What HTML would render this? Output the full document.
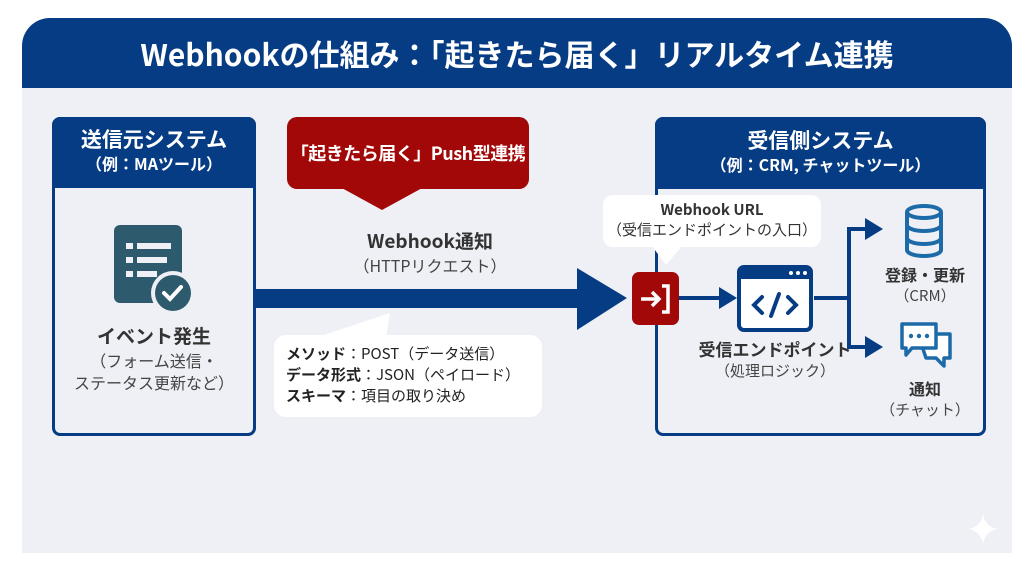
<!DOCTYPE html>
<html><head><meta charset="utf-8"><style>
*{margin:0;padding:0;box-sizing:border-box}
body{width:1024px;height:572px;background:#fff;position:relative;overflow:hidden;font-family:"Liberation Sans","Noto Sans CJK JP",sans-serif;color:#333}
.abs{position:absolute}
.c{text-align:center}
</style></head><body>
<div class="abs" style="left:22px;top:18px;width:990px;height:535px;background:#eef0f6;border-radius:28px 28px 0 0"></div>
<div class="abs c" style="left:22px;top:18px;width:990px;height:70px;background:#063c84;border-radius:28px 28px 0 0;color:#fff;font-weight:bold;font-size:30px;line-height:70px;font-family:'Noto Sans CJK JP',sans-serif">Webhookの仕組み：「起きたら届く」リアルタイム連携</div>

<!-- left box -->
<div class="abs" style="left:52px;top:117px;width:204px;height:319px;border:3px solid #063c84;border-radius:8px;background:#eef0f6"></div>
<div class="abs c" style="left:52px;top:117px;width:204px;height:71px;background:#063c84;border-radius:8px 8px 0 0;color:#fff;font-weight:bold;font-family:'Noto Sans CJK JP',sans-serif">
<div style="font-size:21px;line-height:26px;margin-top:9px">送信元システム</div>
<div style="font-size:16px;line-height:22px">（例：MAツール）</div></div>
<svg class="abs" style="left:110px;top:220px" width="90" height="100">
<rect x="4" y="5" width="68" height="78" rx="6" fill="#2e5a6e"/>
<g fill="#eef0f6"><rect x="16" y="23" width="7" height="6"/><rect x="27" y="23" width="34" height="6"/><rect x="16" y="37" width="7" height="6"/><rect x="27" y="37" width="30" height="6"/><rect x="16" y="51" width="7" height="6"/><rect x="27" y="51" width="20" height="6"/></g>
<circle cx="63" cy="73" r="22" fill="#eef0f6"/><circle cx="63" cy="73" r="18" fill="#2e5a6e"/>
<path d="M54 73 l6 6 l11 -12" stroke="#fff" stroke-width="4" fill="none" stroke-linecap="round"/>
</svg>
<div class="abs c" style="left:52px;top:323px;width:204px;font-family:'Noto Sans CJK JP',sans-serif">
<div style="font-size:19px;font-weight:bold;line-height:26px;color:#333">イベント発生</div>
<div style="font-size:16px;line-height:22px;color:#444">（フォーム送信・<br>ステータス更新など）</div></div>

<!-- red box -->
<div class="abs c" style="left:287px;top:117px;width:242px;height:72px;background:#a30808;border-radius:10px;color:#fff;font-weight:bold;font-size:18px;line-height:72px;white-space:nowrap;letter-spacing:-0.5px;font-family:'Noto Sans CJK JP',sans-serif">「起きたら届く」Push型連携</div>
<svg class="abs" style="left:330px;top:187px" width="100" height="26"><path d="M10 0 L52 23 L94 0Z" fill="#a30808"/></svg>

<div class="abs c" style="left:330px;top:228px;width:200px;font-family:'Noto Sans CJK JP',sans-serif">
<div style="font-size:19px;font-weight:bold;line-height:26px;color:#333">Webhook通知</div>
<div style="font-size:16px;line-height:22px;color:#444">（HTTPリクエスト）</div></div>

<!-- big arrow -->
<svg class="abs" style="left:255px;top:260px" width="380" height="80">
<rect x="0" y="29" width="330" height="19" fill="#063c84"/>
<path d="M322 8 L372 38 L322 70Z" fill="#063c84"/>
</svg>

<!-- bottom callout -->
<svg class="abs" style="left:270px;top:310px" width="130" height="30"><path d="M45 28 L120 3 L116 28Z" fill="#fff"/></svg>
<div class="abs" style="left:274px;top:335px;width:268px;height:82px;background:#fff;border-radius:12px;padding:8px 0 0 12px;font-size:15px;line-height:21px;color:#222;font-family:'Noto Sans CJK JP',sans-serif">
<b>メソッド</b>：POST（データ送信）<br><b>データ形式</b>：JSON（ペイロード）<br><b>スキーマ</b>：項目の取り決め</div>

<!-- right box -->
<div class="abs" style="left:655px;top:117px;width:331px;height:319px;border:3px solid #063c84;border-radius:8px;background:#eef0f6"></div>
<div class="abs c" style="left:655px;top:117px;width:331px;height:72px;background:#063c84;border-radius:8px 8px 0 0;color:#fff;font-weight:bold;font-family:'Noto Sans CJK JP',sans-serif">
<div style="font-size:21px;line-height:26px;margin-top:10px">受信側システム</div>
<div style="font-size:16px;line-height:22px">（例：CRM, チャットツール）</div></div>

<!-- URL callout -->
<div class="abs c" style="left:603px;top:195px;width:218px;height:52px;background:#fff;border-radius:10px;font-size:15px;line-height:20px;padding-top:5px;color:#333;font-family:'Noto Sans CJK JP',sans-serif"><b>Webhook URL</b><br>（受信エンドポイントの入口）</div>
<svg class="abs" style="left:650px;top:246px" width="40" height="22"><path d="M2 0 L16 19 L32 0Z" fill="#fff"/></svg>

<!-- red icon -->
<div class="abs" style="left:632px;top:272px;width:47px;height:53px;background:#a30808;border-radius:7px"></div>
<svg class="abs" style="left:632px;top:272px" width="47" height="53">
<path d="M9 27 H26 M20 20 L27 27 L20 34" stroke="#fff" stroke-width="3.5" fill="none"/>
<path d="M30 14 H36 V40 H30" stroke="#fff" stroke-width="3.5" fill="none"/>
</svg>

<!-- arrows right -->
<svg class="abs" style="left:679px;top:200px" width="230" height="170">
<rect x="0" y="96" width="44" height="4" fill="#063c84"/>
<path d="M40 87 L58 98 L40 109Z" fill="#063c84"/>
<rect x="135" y="96" width="35" height="4" fill="#063c84"/>
<rect x="168" y="27" width="4" height="122" fill="#063c84"/>
<rect x="168" y="27" width="20" height="4" fill="#063c84"/>
<path d="M186 18 L204 29 L186 40Z" fill="#063c84"/>
<rect x="168" y="145" width="20" height="4" fill="#063c84"/>
<path d="M186 136 L204 147 L186 158Z" fill="#063c84"/>
</svg>

<!-- code icon -->
<svg class="abs" style="left:736px;top:264px" width="80" height="70">
<rect x="3" y="3" width="72" height="63" rx="5" fill="#fff" stroke="#063c84" stroke-width="4"/>
<rect x="3" y="3" width="72" height="12" fill="#063c84"/>
<g fill="#fff"><circle cx="55" cy="9" r="2"/><circle cx="62" cy="9" r="2"/><circle cx="69" cy="9" r="2"/></g>
<path d="M26 33 L18 41 L26 49 M52 33 L60 41 L52 49 M43 30 L35 52" stroke="#063c84" stroke-width="4" fill="none" stroke-linecap="round"/>
</svg>
<div class="abs c" style="left:690px;top:337px;width:170px;font-family:'Noto Sans CJK JP',sans-serif">
<div style="font-size:17px;font-weight:bold;line-height:23px;color:#333">受信エンドポイント</div>
<div style="font-size:15px;line-height:21px;color:#444">（処理ロジック）</div></div>

<!-- db icon -->
<svg class="abs" style="left:900px;top:202px" width="50" height="60">
<g fill="none" stroke="#1d6aa8" stroke-width="4">
<ellipse cx="24" cy="10" rx="17" ry="6"/>
<path d="M7 10 V48 A17 6 0 0 0 41 48 V10"/>
<path d="M7 23 A17 6 0 0 0 41 23 M7 36 A17 6 0 0 0 41 36"/></g>
</svg>
<div class="abs c" style="left:880px;top:263px;width:90px;font-family:'Noto Sans CJK JP',sans-serif">
<div style="font-size:16px;font-weight:bold;line-height:22px;color:#333">登録・更新</div>
<div style="font-size:15px;line-height:21px;color:#444">（CRM）</div></div>

<!-- chat icon -->
<svg class="abs" style="left:898px;top:320px" width="58" height="55">
<g fill="#fff" stroke="#1d6aa8" stroke-width="3.5" stroke-linejoin="round">
<path d="M20 14 H52 V38 H46 V46 L38 38 H28Z"/>
<path d="M4 4 H38 V28 H14 L8 35 V28 H4Z"/></g>
<g fill="#1d6aa8"><circle cx="13" cy="16" r="2.2"/><circle cx="21" cy="16" r="2.2"/><circle cx="29" cy="16" r="2.2"/></g>
</svg>
<div class="abs c" style="left:880px;top:377px;width:90px;font-family:'Noto Sans CJK JP',sans-serif">
<div style="font-size:16px;font-weight:bold;line-height:22px;color:#333">通知</div>
<div style="font-size:15px;line-height:21px;color:#444">（チャット）</div></div>

<svg class="abs" style="left:966px;top:512px" width="34" height="34"><path d="M17 2 Q19 15 32 17 Q19 19 17 32 Q15 19 2 17 Q15 15 17 2Z" fill="#fff"/></svg>
</body></html>
